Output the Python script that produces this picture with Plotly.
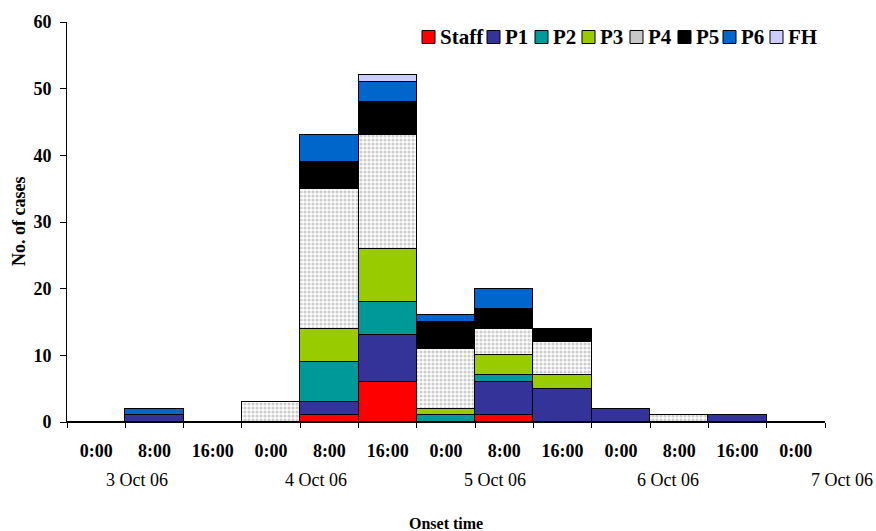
import plotly.graph_objects as go

time_labels = ["0:00", "8:00", "16:00", "0:00", "8:00", "16:00", "0:00",
               "8:00", "16:00", "0:00", "8:00", "16:00", "0:00"]
date_labels = ["3 Oct 06", "4 Oct 06", "5 Oct 06", "6 Oct 06", "7 Oct 06"]
date_pos = [0.7, 3.77, 6.84, 9.81, 12.8]   # in category units

series = ["Staff", "P1", "P2", "P3", "P4", "P5", "P6", "FH"]
staff = [0, 0, 0, 0, 1, 6, 0, 1, 0, 0, 0, 0, 0]
p1    = [0, 1, 0, 0, 2, 7, 0, 5, 5, 2, 0, 1, 0]
p2    = [0, 0, 0, 0, 6, 5, 1, 1, 0, 0, 0, 0, 0]
p3    = [0, 0, 0, 0, 5, 8, 1, 3, 2, 0, 0, 0, 0]
p4    = [0, 0, 0, 3, 21, 17, 9, 4, 5, 0, 1, 0, 0]
p5    = [0, 0, 0, 0, 4, 5, 4, 3, 2, 0, 0, 0, 0]
p6    = [0, 1, 0, 0, 4, 3, 1, 3, 0, 0, 0, 0, 0]
fh    = [0, 0, 0, 0, 0, 1, 0, 0, 0, 0, 0, 0, 0]
values = [staff, p1, p2, p3, p4, p5, p6, fh]
colors = ["#FF0000", "#333399", "#009999", "#99CC00", "#FFFFFF", "#000000", "#0066CC", "#CCCCFF"]
legend_swatch = ["#FF0000", "#333399", "#009999", "#99CC00", "#C8C8C8", "#000000", "#0066CC", "#CCCCFF"]

x = list(range(len(time_labels)))
n = len(time_labels)
FONT = "Liberation Serif"

# plot area geometry (pixels) used for the hand-drawn legend and labels
PL, PR, PT, PB = 67, 825, 22, 422
W, H = 876, 531
PW, PH = PR - PL, PB - PT
def px(v): return (v - PL) / PW
def py(v): return (PB - v) / PH

fig = go.Figure()
for name, vals, col in zip(series, values, colors):
    marker = dict(color=col, line=dict(color="#000000", width=1))
    if name == "P4":
        marker["pattern"] = dict(shape=".", fgcolor="#999999", bgcolor="#FFFFFF",
                                 size=4, solidity=0.5)
    fig.add_trace(go.Bar(x=x, y=vals, name=name, marker=marker, width=1.0,
                         showlegend=False))

fig.update_layout(
    barmode="stack",
    bargap=0,
    width=W, height=H,
    margin=dict(l=PL, r=W - PR, t=PT, b=H - PB, autoexpand=False),
    plot_bgcolor="white", paper_bgcolor="white",
    font=dict(family=FONT, size=18, color="black"),
)
fig.update_xaxes(
    range=[-0.5, n - 0.5], tickvals=x, ticktext=time_labels,
    ticks="", showgrid=False, zeroline=False, ticklabelstandoff=12, automargin=False,
    showline=True, linecolor="black", linewidth=1,
    tickfont=dict(family=FONT, size=18, color="black", weight="bold"),
    minor=dict(tickvals=[i - 0.5 for i in range(n + 1)], ticks="outside", ticklen=5,
               tickcolor="black", showgrid=False),
)
fig.update_yaxes(
    range=[0, 60], dtick=10, ticks="outside", ticklen=6, tickcolor="black",
    showgrid=False, zeroline=False, showline=True, linecolor="black", linewidth=1,
    ticklabelstandoff=5, automargin=False,
    tickfont=dict(family=FONT, size=18, color="black", weight="bold"),
)
fig.add_annotation(x=px(19), y=0.5, xref="paper", yref="paper", textangle=-90,
                   xanchor="center", yanchor="middle", text="<b>No. of cases</b>",
                   showarrow=False, font=dict(family=FONT, size=18, color="black"))
for d, p in zip(date_labels, date_pos):
    fig.add_annotation(x=(p + 0.5) / n, y=0, xref="paper", yref="paper", yshift=-58,
                       xanchor="center", yanchor="middle", text=d, showarrow=False,
                       font=dict(family=FONT, size=18, color="black"))
fig.add_annotation(x=0.5, y=0, xref="paper", yref="paper", yshift=-101,
                   xanchor="center", yanchor="middle",
                   text="<b>Onset time</b>", showarrow=False,
                   font=dict(family=FONT, size=16, color="black"))

# legend (drawn by hand to match the compact layout)
sq_left = [422, 487, 535, 582, 630, 678, 723, 770]
SQ = 13
LY = 37
for name, col, sx in zip(series, legend_swatch, sq_left):
    fig.add_shape(type="rect", xref="paper", yref="paper",
                  x0=px(sx), x1=px(sx + SQ), y0=py(LY + SQ / 2), y1=py(LY - SQ / 2),
                  fillcolor=col, line=dict(color="black", width=1), layer="above")
    fig.add_annotation(x=px(sx + SQ + 3), y=py(LY), xref="paper", yref="paper",
                       xanchor="left", yanchor="middle", text=f"<b>{name}</b>",
                       showarrow=False, font=dict(family=FONT, size=21, color="black"))

fig.write_html("out.html", config={"displayModeBar": False},
               post_script="document.body.style.margin='0';document.body.style.overflow='hidden';")
